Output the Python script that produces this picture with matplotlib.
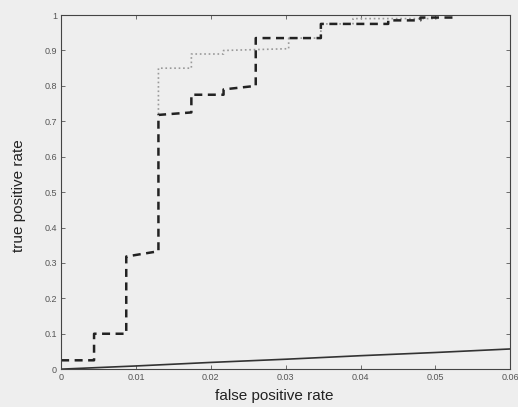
import matplotlib
matplotlib.use("Agg")
import matplotlib.pyplot as plt

# step curves (false positive rate, true positive rate)
dash_fpr = [0, 0.0044, 0.0044, 0.0087, 0.0087, 0.013, 0.013, 0.0174, 0.0174, 0.0217,
            0.0217, 0.026, 0.026, 0.0347, 0.0347, 0.0437, 0.0437, 0.048, 0.048, 0.0523]
dash_tpr = [0.025, 0.025, 0.1, 0.1, 0.318, 0.333, 0.718, 0.725, 0.775, 0.775,
            0.79, 0.80, 0.935, 0.935, 0.975, 0.975, 0.985, 0.985, 0.993, 0.993]

dot_fpr = [0.013, 0.013, 0.0174, 0.0174, 0.0217, 0.0217, 0.0304, 0.0304, 0.0347,
           0.0347, 0.039, 0.039, 0.0505]
dot_tpr = [0.72, 0.85, 0.85, 0.89, 0.89, 0.90, 0.905, 0.935, 0.935,
           0.975, 0.975, 0.99, 0.99]

line_fpr = [0, 0.01, 0.02, 0.03, 0.04, 0.05, 0.06]
line_tpr = [0, 0.009, 0.019, 0.028, 0.038, 0.047, 0.057]

xticks = [0, 0.01, 0.02, 0.03, 0.04, 0.05, 0.06]
xticklabels = ["0", "0.01", "0.02", "0.03", "0.04", "0.05", "0.06"]
yticks = [0, 0.1, 0.2, 0.3, 0.4, 0.5, 0.6, 0.7, 0.8, 0.9, 1]
yticklabels = ["0", "0.1", "0.2", "0.3", "0.4", "0.5", "0.6", "0.7", "0.8", "0.9", "1"]

bg = "#eeeeee"
fig = plt.figure(figsize=(5.18, 4.07), dpi=100, facecolor=bg)
ax = fig.add_axes([0.118, 0.093, 0.867, 0.87], facecolor=bg)

ax.plot(dot_fpr, dot_tpr, color="#999999", ls=":", lw=1.2)
ax.plot(dash_fpr, dash_tpr, color="#222222", ls=(0, (3.2, 2.2)), lw=1.8)
ax.plot(line_fpr, line_tpr, color="#333333", lw=1.2)

ax.set_xlim(0, 0.06)
ax.set_ylim(0, 1)
ax.set_xticks(xticks)
ax.set_xticklabels(xticklabels, family="Liberation Sans")
ax.set_yticks(yticks)
ax.set_yticklabels(yticklabels, family="Liberation Sans")
ax.tick_params(direction="in", top=True, right=True, labelsize=6.5, colors="#555555",
               length=3, width=0.6, pad=3)
for s in ax.spines.values():
    s.set_color("#444444")
    s.set_linewidth(0.8)

ax.set_xlabel("false positive rate", fontsize=11, family="Liberation Sans", color="#222222")
ax.set_ylabel("true positive rate", fontsize=11, family="Liberation Sans", color="#222222")
ax.xaxis.set_label_coords(0.474, -0.056)
ax.yaxis.set_label_coords(-0.078, 0.49)

fig.savefig("out.png", dpi=100, facecolor=bg)
